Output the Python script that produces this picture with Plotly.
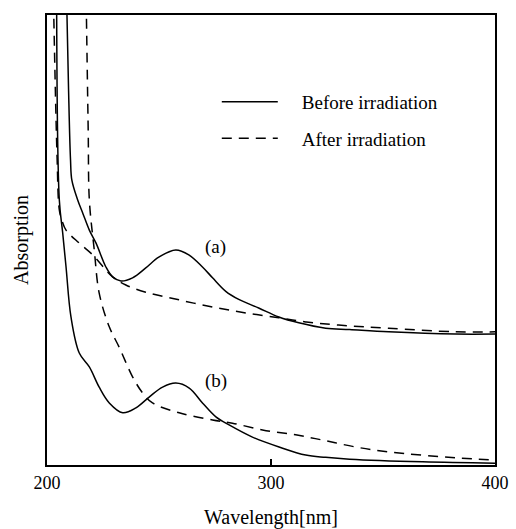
import plotly.graph_objects as go

# ---- data (wavelength in nm, absorption in relative units) ----
wl_a_before = [208.7, 209.6, 210.5, 211.1, 213.7, 216.1, 218.9, 221.9, 226.3, 229.3, 233.0,
               238.2, 244.1, 249.9, 257.5, 263.3, 269.4, 273.9, 279.8, 285.6, 294.5, 303.5,
               312.4, 324.4, 335.1, 352.5, 382.4, 400.0]
abs_a_before = [1.05, 0.84, 0.678, 0.633, 0.589, 0.558, 0.522, 0.493, 0.440, 0.418, 0.409,
                0.416, 0.438, 0.462, 0.478, 0.467, 0.440, 0.416, 0.386, 0.368, 0.349, 0.329,
                0.316, 0.304, 0.301, 0.296, 0.291, 0.291]

wl_a_after = [202.9, 204.5, 205.5, 206.7, 208.5, 214.4, 220.4, 229.3, 235.2, 244.1, 258.9,
              273.9, 288.7, 303.5, 315.5, 330.2, 352.5, 382.4, 400.0]
abs_a_after = [1.03, 0.684, 0.567, 0.543, 0.522, 0.493, 0.467, 0.418, 0.400, 0.384, 0.367,
               0.351, 0.338, 0.327, 0.318, 0.311, 0.304, 0.296, 0.296]

wl_b_before = [204.3, 205.5, 207.0, 208.5, 210.7, 214.4, 218.9, 223.3, 227.8, 233.8, 239.7,
               245.6, 251.6, 257.5, 263.5, 269.4, 275.4, 281.3, 291.7, 303.6, 315.5, 324.4,
               335.1, 367.7, 400.0]
abs_b_before = [1.03, 0.589, 0.516, 0.440, 0.329, 0.249, 0.218, 0.173, 0.138, 0.116, 0.127,
                0.151, 0.173, 0.182, 0.171, 0.138, 0.107, 0.089, 0.062, 0.040, 0.022, 0.017,
                0.013, 0.007, 0.004]

wl_b_after = [217.5, 218.4, 218.9, 221.1, 223.3, 227.8, 232.2, 238.2, 242.7, 247.1, 259.0,
              273.9, 282.8, 296.2, 311.0, 324.4, 337.8, 352.5, 382.4, 400.0]
abs_b_after = [1.03, 0.74, 0.589, 0.478, 0.382, 0.307, 0.262, 0.196, 0.160, 0.138, 0.116,
               0.100, 0.093, 0.078, 0.067, 0.054, 0.040, 0.029, 0.016, 0.011]

x_ticks = [200, 300, 400]
legend_names = ["Before irradiation", "After irradiation"]
curve_labels = ["(a)", "(b)"]
label_pos_x = [275.4, 275.4]
label_pos_y = [0.484, 0.187]

FONT = "Liberation Serif, Times New Roman, serif"
DASH = "10px,7px"
LW = 1.5
PAD = "\u2002\u2002"  # small gap between legend sample and its text

fig = go.Figure()
fig.add_trace(go.Scatter(x=wl_a_before, y=abs_a_before, mode="lines", name=PAD + legend_names[0],
                         line=dict(color="black", width=LW, shape="spline", smoothing=1.0),
                         legend="legend", showlegend=True))
fig.add_trace(go.Scatter(x=wl_b_before, y=abs_b_before, mode="lines", name=PAD + legend_names[0],
                         line=dict(color="black", width=LW, shape="spline", smoothing=1.0),
                         showlegend=False))
fig.add_trace(go.Scatter(x=wl_a_after, y=abs_a_after, mode="lines", name=PAD + legend_names[1],
                         line=dict(color="black", width=LW, dash=DASH, shape="spline", smoothing=1.0),
                         legend="legend2", showlegend=True))
fig.add_trace(go.Scatter(x=wl_b_after, y=abs_b_after, mode="lines", name=PAD + legend_names[1],
                         line=dict(color="black", width=LW, dash=DASH, shape="spline", smoothing=1.0),
                         showlegend=False))

for t, xx, yy in zip(curve_labels, label_pos_x, label_pos_y):
    fig.add_annotation(x=xx, y=yy, text=t, showarrow=False,
                       font=dict(family=FONT, size=19, color="black"))

legend_common = dict(x=0.379, xanchor="left", yanchor="middle", bgcolor="rgba(0,0,0,0)",
                     font=dict(family=FONT, size=19, color="black"), itemwidth=56)

fig.update_layout(
    width=516, height=529,
    margin=dict(l=47, r=21, t=15, b=64, autoexpand=False),
    paper_bgcolor="white", plot_bgcolor="white",
    font=dict(family=FONT, color="black"),
    legend=dict(y=0.807, **legend_common),
    legend2=dict(y=0.726, **legend_common),
    xaxis=dict(range=[200, 400], tickvals=x_ticks, ticktext=[str(v) for v in x_ticks],
               ticks="inside", ticklen=6, tickwidth=1.5, tickcolor="black",
               showline=True, linecolor="black", linewidth=2, mirror=True,
               showgrid=False, zeroline=False, ticklabelstandoff=0, automargin=False,
               tickfont=dict(family=FONT, size=18, color="black"),
               title=dict(text="Wavelength[nm]", font=dict(family=FONT, size=20, color="black"),
                          standoff=18)),
    yaxis=dict(range=[0, 1], showticklabels=False, ticks="",
               showline=True, linecolor="black", linewidth=2, mirror=True,
               showgrid=False, zeroline=False, automargin=False,
               title=dict(text="Absorption", font=dict(family=FONT, size=20, color="black"),
                          standoff=11)),
)

fig.write_html("out.html", config={"displayModeBar": False},
               post_script="document.body.style.margin='0';document.body.style.overflow='hidden';")
